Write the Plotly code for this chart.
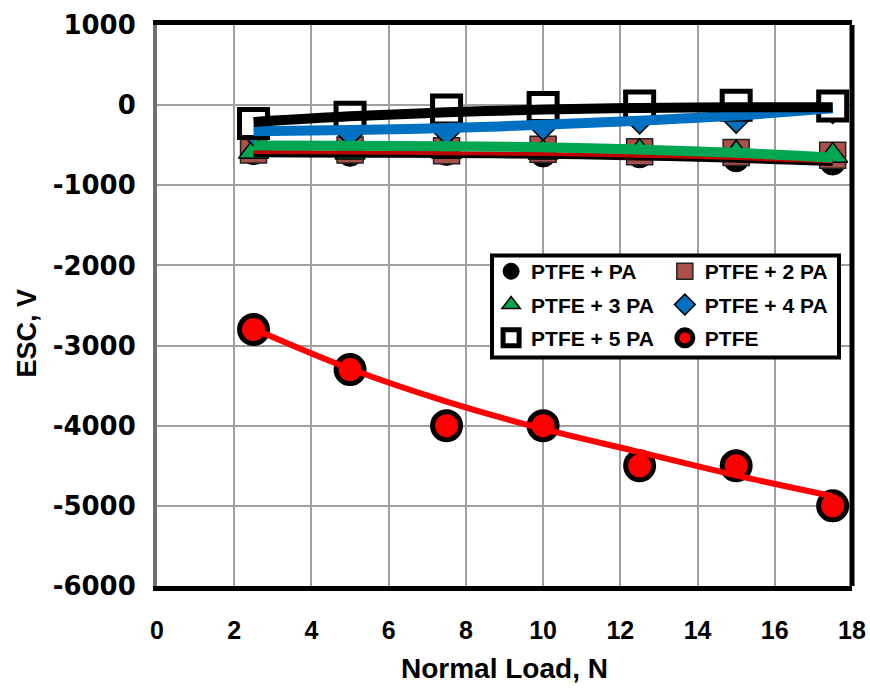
import plotly.graph_objects as go

# ---------------- data ----------------
load = [2.5, 5, 7.5, 10, 12.5, 15, 17.5]

esc_pa = [-580, -600, -590, -610, -620, -670, -710]
esc_2pa = [-560, -560, -570, -550, -580, -590, -625]
esc_3pa = [-580, -590, -580, -590, -580, -600, -630]
esc_4pa = [-330, -340, -320, -260, -180, -170, -50]
esc_5pa = [-230, -150, -60, -30, -10, 0, -10]
esc_ptfe = [-2800, -3300, -4000, -4000, -4500, -4500, -5000]

# trendlines
trend_pa = [-625, -630, -635, -645, -665, -695, -735]
trend_2pa = [-585, -590, -600, -610, -630, -660, -700]
trend_3pa = [-505, -508, -512, -525, -555, -595, -655]
trend_4pa = [-325, -310, -285, -245, -195, -130, -40]
trend_5pa = [-210, -140, -90, -55, -35, -25, -25]
trend_ptfe = [-2790, -3290, -3700, -4040, -4330, -4620, -4880]

x_ticks = [0, 2, 4, 6, 8, 10, 12, 14, 16, 18]
y_ticks = [1000, 0, -1000, -2000, -3000, -4000, -5000, -6000]

names = ["PTFE + PA", "PTFE + 2 PA", "PTFE + 3 PA", "PTFE + 4 PA", "PTFE + 5 PA", "PTFE"]

fig = go.Figure()

# markers (drawn first, trendlines on top)
marker_specs = [
    (names[0], esc_pa, dict(symbol="circle", size=26, color="black", line=dict(color="black", width=1)), "legend", "g1"),
    (names[1], esc_2pa, dict(symbol="square", size=26, color="#A9504B", line=dict(color="#222222", width=1.5)), "legend2", "g2"),
    (names[2], esc_3pa, dict(symbol="triangle-up", size=26, color="#00A651", line=dict(color="black", width=1.5)), "legend", "g3"),
    (names[3], esc_4pa, dict(symbol="diamond", size=22, color="#0070C0", line=dict(color="black", width=1.5)), "legend2", "g4"),
    (names[4], esc_5pa, dict(symbol="square", size=28, color="white", line=dict(color="black", width=5)), "legend", "g5"),
    (names[5], esc_ptfe, dict(symbol="circle", size=28, color="#FF0000", line=dict(color="black", width=5)), "legend2", "g6"),
]
for name, ys, mk, lg, grp in marker_specs:
    fig.add_trace(go.Scatter(x=load, y=ys, mode="markers", name=name, marker=mk,
                             legend=lg, legendgroup=grp))

trend_specs = [
    (trend_pa, "black", 4),
    (trend_2pa, "#C00000", 4),
    (trend_3pa, "#00A651", 10),
    (trend_4pa, "#0070C0", 10),
    (trend_5pa, "black", 10),
    (trend_ptfe, "#FF0000", 6),
]
for ys, col, w in trend_specs:
    fig.add_trace(go.Scatter(x=load, y=ys, mode="lines", line=dict(color=col, width=w, shape="spline"),
                             showlegend=False, hoverinfo="skip"))

FONT = "Liberation Sans, Arial, sans-serif"
legend_font = dict(family=FONT, size=21, color="black", weight="bold")
fig.update_layout(
    width=870, height=688,
    margin=dict(l=157, r=18, t=25, b=102, autoexpand=False),
    paper_bgcolor="white", plot_bgcolor="white",
    legend=dict(x=0.4807, y=0.597, xanchor="left", yanchor="top", bgcolor="rgba(0,0,0,0)",
                borderwidth=0, font=legend_font, tracegroupgap=3, itemsizing="trace"),
    legend2=dict(x=0.7307, y=0.597, xanchor="left", yanchor="top", bgcolor="rgba(0,0,0,0)",
                 borderwidth=0, font=legend_font, tracegroupgap=3, itemsizing="trace"),
    shapes=[
        dict(type="rect", xref="paper", yref="paper", x0=0.482, x1=0.9813, y0=0.4075, y1=0.589,
             line=dict(color="black", width=4), fillcolor="white", layer="above"),
        dict(type="line", xref="paper", yref="paper", x0=1, x1=1, y0=0, y1=1,
             line=dict(color="black", width=5), layer="above"),
    ],
    annotations=[
        dict(text="<b>ESC, V</b>", xref="paper", yref="paper", x=-0.1870, y=0.45,
             textangle=-90, showarrow=False, xanchor="center", yanchor="middle",
             font=dict(family=FONT, size=27, color="black")),
        dict(text="<b>Normal Load, N</b>", xref="paper", yref="paper", x=0.5, y=-0.1476,
             showarrow=False, xanchor="center", yanchor="middle",
             font=dict(family=FONT, size=28, color="black")),
    ],
)

fig.update_xaxes(
    range=[0, 18], tickvals=x_ticks, ticktext=[f"<b>{v}</b>" for v in x_ticks],
    showgrid=True, gridcolor="#A0A0A0", gridwidth=1.5, zeroline=False,
    showline=True, linecolor="black", linewidth=5, mirror=True,
    ticks="", ticklabelstandoff=18, automargin=False,
    tickfont=dict(family=FONT, size=25, color="black"),
)
fig.update_yaxes(
    range=[-6000, 1000], tickvals=y_ticks, ticktext=[f"<b>{v}</b>" for v in y_ticks],
    showgrid=True, gridcolor="#A0A0A0", gridwidth=1.5, zeroline=False,
    showline=True, linecolor="#707070", linewidth=4,
    ticks="", ticklabelstandoff=12, automargin=False,
    tickfont=dict(family="DejaVu Sans, sans-serif", size=26, color="black"),
)

fig.write_html("out.html", config={"displayModeBar": False},
               post_script="document.body.style.margin='0px';")
